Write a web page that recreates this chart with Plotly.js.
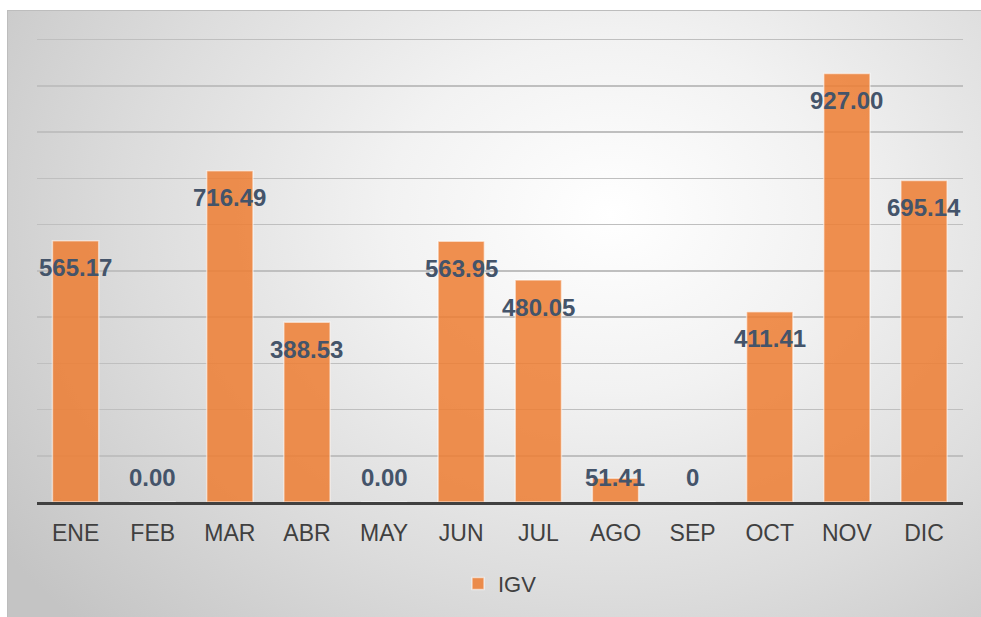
<!DOCTYPE html>
<html>
<head>
<meta charset="utf-8">
<script src="https://cdn.plot.ly/plotly-3.0.1.min.js"></script>
<style>
  html, body { margin: 0; padding: 0; background: #ffffff; }
  #wrap { position: relative; width: 981px; height: 617px; overflow: hidden; background: #ffffff; }
  #bg { position: absolute; left: 7px; top: 10px; width: 990px; height: 620px;
        border: 1px solid #bdbdbd; box-sizing: border-box;
        background: radial-gradient(ellipse 75% 95% at 61% 33%, #ffffff 0%, #f2f2f2 30%, #dcdcdc 65%, #c4c4c4 100%); }
  #chart { position: absolute; left: 0; top: 0; width: 981px; height: 617px; }
</style>
</head>
<body>
<div id="wrap">
  <div id="bg"></div>
  <div id="chart"></div>
</div>
<script>
const months = ["ENE","FEB","MAR","ABR","MAY","JUN","JUL","AGO","SEP","OCT","NOV","DIC"];
const igv = [565.17, 0.00, 716.49, 388.53, 0.00, 563.95, 480.05, 51.41, 0, 411.41, 927.00, 695.14];
const labels = ["565.17","0.00","716.49","388.53","0.00","563.95","480.05","51.41","0","411.41","927.00","695.14"];

const annotations = months.map((m, i) => {
  const small = igv[i] < 100;
  return {
    x: m, y: small ? 0 : igv[i], xref: 'x', yref: 'y',
    text: labels[i], showarrow: false,
    yshift: small ? 25 : -27,
    font: { family: 'Liberation Sans, Arial, sans-serif', size: 24, color: '#44546A', weight: 'bold' }
  };
});

const data = [{
  type: 'bar', x: months, y: igv, name: 'IGV',
  marker: { color: 'rgba(237,125,49,0.85)', line: { color: 'rgba(255,255,255,0.55)', width: 1.5 } },
  hoverinfo: 'none'
}];

const layout = {
  width: 981, height: 617,
  margin: { l: 37, r: 18, t: 35, b: 113 },
  paper_bgcolor: 'rgba(0,0,0,0)', plot_bgcolor: 'rgba(0,0,0,0)',
  bargap: 0.4,
  showlegend: true,
  legend: { orientation: 'h', x: 0.5, xanchor: 'center', y: -0.175, yanchor: 'middle',
            font: { family: 'Liberation Sans, Arial, sans-serif', size: 22, color: '#404040' },
            bgcolor: 'rgba(0,0,0,0)' },
  xaxis: {
    type: 'category', showgrid: false, showline: true, linecolor: '#404040', linewidth: 3,
    ticks: '', ticklabelstandoff: 8,
    tickfont: { family: 'Liberation Sans, Arial, sans-serif', size: 23, color: '#404040' },
    zeroline: false, fixedrange: true
  },
  yaxis: {
    range: [0, 1010], dtick: 100, showgrid: true, gridcolor: '#bfbfbf', gridwidth: 1.5,
    showticklabels: false, zeroline: false, showline: false, ticks: '', fixedrange: true
  },
  annotations: annotations,
  font: { family: 'Liberation Sans, Arial, sans-serif' }
};

Plotly.newPlot('chart', data, layout, { displayModeBar: false, staticPlot: true });
</script>
</body>
</html>
